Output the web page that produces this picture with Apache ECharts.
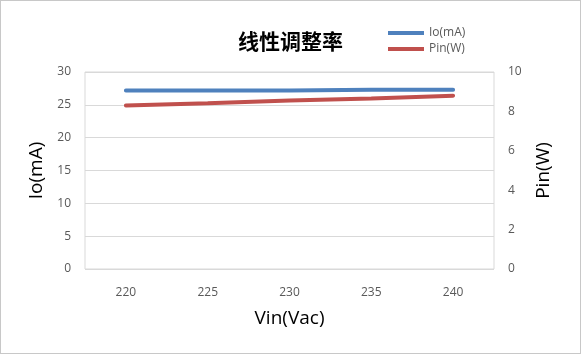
<!DOCTYPE html>
<html>
<head>
<meta charset="utf-8">
<script src="https://cdn.jsdelivr.net/npm/echarts@6/dist/echarts.min.js"></script>
<style>
  html, body { margin: 0; padding: 0; background: #fff; }
  #chart { width: 579px; height: 352px; border: 1px solid #c8c8c8; }
</style>
</head>
<body>
<div id="chart"></div>
<script>
var vinLabels = ['220', '225', '230', '235', '240']
var ioValues = [27.2, 27.2, 27.2, 27.3, 27.3]
var pinValues = [8.3, 8.42, 8.55, 8.65, 8.8]

var nameStyle = { fontSize: 19, color: '#000', fontFamily: 'Open Sans' }

var myChart = echarts.init(document.getElementById('chart'))
myChart.setOption({
  backgroundColor: '#fff',
  animation: false,
  title: {
    text: '线性调整率',
    left: 232,
    top: 25,
    textStyle: {
      fontFamily: 'Noto Sans CJK SC',
      fontSize: 21,
      fontWeight: 'bold',
      color: '#000'
    }
  },
  legend: {
    orient: 'vertical',
    left: 382,
    top: 21,
    itemGap: 4,
    itemWidth: 36,
    itemHeight: 4,
    icon: 'rect',
    textStyle: { fontSize: 12, color: '#595959', fontFamily: 'Open Sans' },
    data: ['Io(mA)', 'Pin(W)']
  },
  grid: {
    left: 84,
    right: 86,
    top: 71,
    bottom: 84,
    show: true,
    borderColor: '#d9d9d9',
    borderWidth: 1
  },
  xAxis: {
    type: 'category',
    data: vinLabels,
    boundaryGap: true,
    name: 'Vin(Vac)',
    nameLocation: 'middle',
    nameGap: 40,
    nameTextStyle: nameStyle,
    axisLine: { show: false },
    axisTick: { show: false },
    axisLabel: { color: '#595959', fontSize: 12, margin: 18, fontFamily: 'Open Sans' }
  },
  yAxis: [{
    type: 'value',
    min: 0,
    max: 30,
    interval: 5,
    name: 'Io(mA)',
    nameLocation: 'middle',
    nameGap: 38,
    nameTextStyle: nameStyle,
    axisLine: { show: false },
    axisTick: { show: false },
    axisLabel: { color: '#595959', fontSize: 12, margin: 14, fontFamily: 'Open Sans' },
    splitLine: { lineStyle: { color: '#d9d9d9' } }
  }, {
    type: 'value',
    min: 0,
    max: 10,
    interval: 2,
    name: 'Pin(W)',
    nameLocation: 'middle',
    nameGap: 40,
    nameTextStyle: nameStyle,
    axisLine: { show: false },
    axisTick: { show: false },
    axisLabel: { color: '#595959', fontSize: 12, margin: 14, fontFamily: 'Open Sans' },
    splitLine: { show: false }
  }],
  series: [{
    name: 'Io(mA)',
    type: 'line',
    yAxisIndex: 0,
    data: ioValues,
    symbol: 'none',
    color: '#4f81bd',
    lineStyle: { width: 4, color: '#4f81bd', cap: 'round' }
  }, {
    name: 'Pin(W)',
    type: 'line',
    yAxisIndex: 1,
    data: pinValues,
    symbol: 'none',
    color: '#c0504d',
    lineStyle: { width: 4, color: '#c0504d', cap: 'round' }
  }]
})
</script>
</body>
</html>
